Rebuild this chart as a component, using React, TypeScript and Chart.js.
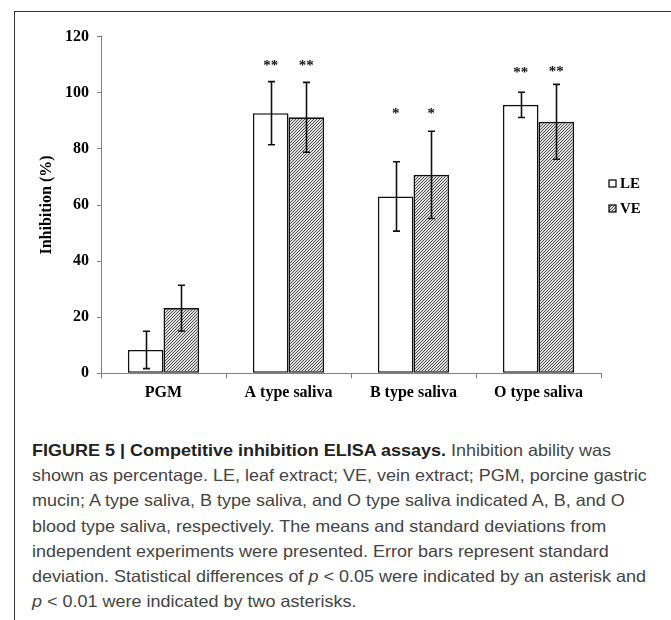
import React, { useEffect, useRef } from "react";
import { Chart, registerables } from "chart.js";

Chart.register(...registerables);

const categories = ["PGM", "A type saliva", "B type saliva", "O type saliva"];
const seriesNames = ["LE", "VE"];
const leValues = [8.33, 92.75, 63.05, 95.7];
const veValues = [23.25, 91.25, 70.75, 89.65];
const leErrors = [6.67, 11.25, 12.35, 4.5];
const veErrors = [8.15, 12.45, 15.55, 13.35];
const leSignif = ["", "**", "*", "**"];
const veSignif = ["", "**", "*", "**"];
const leStarLevels = [0, 110.5, 93.6, 108.0];
const veStarLevels = [0, 110.5, 93.6, 108.5];
const yTicks = [0, 20, 40, 60, 80, 100, 120];
const yTitle = "Inhibition (%)";

const SERIF = "'Liberation Serif', 'Times New Roman', serif";

function makeHatch(ctx: CanvasRenderingContext2D): CanvasPattern | string {
  const c = document.createElement("canvas");
  c.width = 3;
  c.height = 3;
  const cx = c.getContext("2d");
  if (!cx) return "#aaa";
  const img = cx.createImageData(3, 3);
  for (let y = 0; y < 3; y++) {
    for (let x = 0; x < 3; x++) {
      const i = (y * 3 + x) * 4;
      const dark = (x + y) % 3 === 2;
      const v = dark ? 85 : 220;
      img.data[i] = v;
      img.data[i + 1] = v;
      img.data[i + 2] = v;
      img.data[i + 3] = 255;
    }
  }
  cx.putImageData(img, 0, 0);
  return ctx.createPattern(c, "repeat") || "#aaa";
}

export default function App() {
  const canvasRef = useRef<HTMLCanvasElement | null>(null);

  useEffect(() => {
    const canvas = canvasRef.current;
    if (!canvas) return;
    const ctx0 = canvas.getContext("2d")!;
    const hatch = makeHatch(ctx0);
    const errs = [leErrors, veErrors];
    const sigs = [leSignif, veSignif];
    const levels = [leStarLevels, veStarLevels];

    const overlay = {
      id: "overlay",
      afterDatasetsDraw(chart: any) {
        const ctx = chart.ctx as CanvasRenderingContext2D;
        const ys = chart.scales.y;
        ctx.save();
        chart.data.datasets.forEach((ds: any, di: number) => {
          const meta = chart.getDatasetMeta(di);
          meta.data.forEach((el: any, j: number) => {
            const v = ds.data[j];
            const e = errs[di][j];
            const yt = ys.getPixelForValue(v + e);
            const yb = ys.getPixelForValue(v - e);
            const x = Math.round(el.x) + 0.5;
            ctx.strokeStyle = "#111";
            ctx.lineWidth = 1.6;
            ctx.beginPath();
            ctx.moveTo(x, yt);
            ctx.lineTo(x, yb);
            ctx.moveTo(x - 3.5, yt);
            ctx.lineTo(x + 3.5, yt);
            ctx.moveTo(x - 3.5, yb);
            ctx.lineTo(x + 3.5, yb);
            ctx.stroke();
            const s = sigs[di][j];
            if (s) {
              ctx.font = `bold 15px ${SERIF}`;
              ctx.fillStyle = "#111";
              ctx.textAlign = "center";
              ctx.textBaseline = "alphabetic";
              const m = ctx.measureText(s);
              const yc = ys.getPixelForValue(levels[di][j]);
              const base = yc + (m.actualBoundingBoxAscent - m.actualBoundingBoxDescent) / 2;
              ctx.fillText(s, el.x, base);
            }
          });
        });
        const lx = chart.chartArea.right + 8;
        const cy = (chart.chartArea.top + chart.chartArea.bottom) / 2 - 9;
        seriesNames.forEach((name, i) => {
          const y = cy + (i - 0.5) * 25;
          ctx.fillStyle = i === 0 ? "#fff" : (hatch as any);
          ctx.fillRect(lx, y - 3.5, 7, 7);
          ctx.strokeStyle = "#111";
          ctx.lineWidth = 1.3;
          ctx.strokeRect(lx, y - 3.5, 7, 7);
          ctx.fillStyle = "#000";
          ctx.font = `bold 15px ${SERIF}`;
          ctx.textAlign = "left";
          ctx.textBaseline = "middle";
          ctx.fillText(name, lx + 11, y + 1);
        });
        ctx.restore();
      },
    };

    const tickFont = { family: SERIF, weight: "bold" as const, size: 16 };

    const chart = new Chart(canvas, {
      type: "bar",
      data: {
        labels: categories,
        datasets: [
          {
            label: seriesNames[0],
            data: leValues,
            backgroundColor: "#ffffff",
            borderColor: "#111",
            borderWidth: 1.6,
            borderSkipped: false,
            categoryPercentage: 0.57,
            barPercentage: 1.0,
          },
          {
            label: seriesNames[1],
            data: veValues,
            backgroundColor: hatch as any,
            borderColor: "#111",
            borderWidth: 1.6,
            borderSkipped: false,
            categoryPercentage: 0.57,
            barPercentage: 1.0,
          },
        ],
      },
      options: {
        animation: false,
        responsive: false,
        devicePixelRatio: 1,
        layout: { padding: { top: 25.7, right: 70, bottom: 0, left: 0 } },
        plugins: {
          legend: { display: false },
          tooltip: { enabled: false },
        },
        scales: {
          x: {
            grid: {
              display: true,
              drawOnChartArea: false,
              offset: true,
              tickLength: 5,
              color: "#808080",
            },
            border: { color: "#808080", width: 1 },
            ticks: { font: tickFont, color: "#000", padding: 5, maxRotation: 0 },
            afterFit: (s: any) => {
              s.height = 42.7;
            },
          },
          y: {
            min: 0,
            max: 120,
            ticks: { stepSize: 20, font: tickFont, color: "#000", padding: 8 },
            afterBuildTicks: (s: any) => {
              s.ticks = yTicks.map((v) => ({ value: v }));
            },
            grid: { drawOnChartArea: false, tickLength: 4, color: "#808080" },
            border: { color: "#808080", width: 1 },
            title: {
              display: true,
              text: yTitle,
              font: { family: SERIF, weight: "bold", size: 16 },
              color: "#000",
              padding: { top: 23, bottom: 0 },
            },
            afterFit: (s: any) => {
              s.width = 87;
            },
          },
        },
      },
      plugins: [overlay],
    });
    return () => chart.destroy();
  }, []);

  return (
    <div
      style={{
        position: "absolute",
        left: 0,
        top: 0,
        width: 671,
        height: 620,
        overflow: "hidden",
        background: "#fff",
      }}
    >
      <div
        style={{
          position: "absolute",
          left: 14,
          top: 11,
          width: 800,
          height: 800,
          border: "1px solid #333",
          boxSizing: "border-box",
        }}
      />
      <canvas
        ref={canvasRef}
        width={657}
        height={405}
        style={{ position: "absolute", left: 14, top: 11, width: 657, height: 405 }}
      />
      <div
        style={{
          position: "absolute",
          left: 32,
          top: 438,
          fontFamily: "'Liberation Sans', Arial, sans-serif",
          fontSize: "16.5px",
          lineHeight: "25.2px",
          color: "#444",
          whiteSpace: "nowrap",
          transform: "scaleX(1.09)",
          transformOrigin: "left top",
        }}
      >
        <div>
          <b style={{ color: "#222" }}>FIGURE 5 | Competitive inhibition ELISA assays.</b> Inhibition ability was
        </div>
        <div>shown as percentage. LE, leaf extract; VE, vein extract; PGM, porcine gastric</div>
        <div>mucin; A type saliva, B type saliva, and O type saliva indicated A, B, and O</div>
        <div>blood type saliva, respectively. The means and standard deviations from</div>
        <div>independent experiments were presented. Error bars represent standard</div>
        <div>
          deviation. Statistical differences of <i>p</i> &lt; 0.05 were indicated by an asterisk and
        </div>
        <div>
          <i>p</i> &lt; 0.01 were indicated by two asterisks.
        </div>
      </div>
    </div>
  );
}
